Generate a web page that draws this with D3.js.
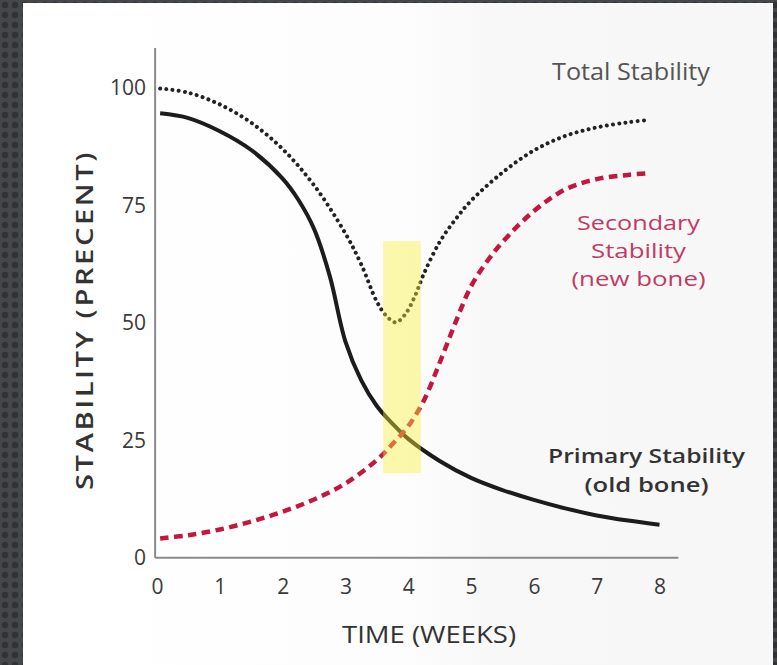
<!DOCTYPE html>
<html>
<head>
<meta charset="utf-8">
<script src="https://cdn.jsdelivr.net/npm/d3@7"></script>
<style>
  html, body { margin: 0; padding: 0; background: #3b3e42; }
  svg { display: block; }
  text { font-family: "Open Sans", "DejaVu Sans", sans-serif; }
</style>
</head>
<body>
<svg id="chart" width="777" height="665"></svg>
<script>
// ---- data ----
const xTicks = [0, 1, 2, 3, 4, 5, 6, 7, 8];
const yTicks = [0, 25, 50, 75, 100];

const primaryWeeks  = [0.05, 0.5, 1, 1.5, 2, 2.25, 2.5, 2.75, 3, 3.25, 3.5, 3.75, 4, 4.5, 5, 5.5, 6, 6.5, 7, 7.5, 8];
const primaryValues = [94.6, 93.6, 90.8, 86.8, 80.7, 76.2, 70.0, 60.0, 46.0, 37.8, 32.3, 28.5, 25.3, 20.6, 17.0, 14.4, 12.3, 10.5, 9.0, 7.9, 7.0];

const secondaryWeeks  = [0.05, 0.5, 1, 1.5, 2, 2.5, 3, 3.5, 3.75, 4, 4.25, 4.5, 4.75, 5, 5.25, 5.5, 6, 6.5, 7, 7.5, 7.78];
const secondaryValues = [4.1, 4.8, 6.0, 7.7, 9.8, 12.4, 15.8, 20.8, 24.2, 28.0, 33.5, 41.5, 50.0, 57.8, 63.0, 67.2, 73.8, 78.4, 80.6, 81.5, 81.8];

const totalWeeks  = [0.05, 0.5, 1, 1.5, 2, 2.5, 3, 3.25, 3.5, 3.65, 3.8, 3.95, 4.1, 4.25, 4.5, 4.75, 5, 5.5, 6, 6.5, 7, 7.5, 7.83];
const totalValues = [99.9, 99.0, 96.5, 92.6, 87.0, 79.3, 69.0, 62.5, 54.5, 51.5, 50.1, 51.8, 55.5, 60.5, 67.2, 72.0, 76.0, 82.0, 86.7, 89.8, 91.6, 92.7, 93.2];

const highlightWeeks  = [3.6, 4.2];
const highlightValues = [18, 67.4];

const labels = {
  total: ["Total Stability"],
  secondary: ["Secondary", "Stability", "(new bone)"],
  primary: ["Primary Stability", "(old bone)"]
};
const xTitle = "TIME (WEEKS)";
const yTitle = "STABILITY (PRECENT)";

// ---- drawing ----
const svg = d3.select("#chart");
const defs = svg.append("defs");

// textured dark frame
const pat = defs.append("pattern").attr("id", "dots")
  .attr("width", 10).attr("height", 10).attr("patternUnits", "userSpaceOnUse");
pat.append("rect").attr("width", 10).attr("height", 10).attr("fill", "#44474b");
pat.append("circle").attr("cx", 5).attr("cy", 5).attr("r", 3.2).attr("fill", "#303235");
svg.append("rect").attr("width", 777).attr("height", 665).attr("fill", "url(#dots)");

// panel with slight grey on the right
const grad = defs.append("linearGradient").attr("id", "panelGrad")
  .attr("x1", "0").attr("x2", "1").attr("y1", "0").attr("y2", "0");
grad.append("stop").attr("offset", "0%").attr("stop-color", "#ffffff");
grad.append("stop").attr("offset", "50%").attr("stop-color", "#fdfdfd");
grad.append("stop").attr("offset", "62%").attr("stop-color", "#f8f8f8");
grad.append("stop").attr("offset", "100%").attr("stop-color", "#f7f7f7");
svg.append("rect").attr("x", 23).attr("y", 3).attr("width", 750).attr("height", 662)
  .attr("fill", "url(#panelGrad)");

const x = d3.scaleLinear().domain([0, 8]).range([157, 659.5]);
const y = d3.scaleLinear().domain([0, 100]).range([557.7, 88]);

// axis lines
svg.append("line")
  .attr("x1", x(-0.03)).attr("x2", x(-0.03))
  .attr("y1", y(0)).attr("y2", y(108.5))
  .attr("stroke", "#8a8a8a").attr("stroke-width", 2);
svg.append("line")
  .attr("x1", x(-0.03)).attr("x2", x(8.3))
  .attr("y1", y(0)).attr("y2", y(0))
  .attr("stroke", "#8a8a8a").attr("stroke-width", 2);

// tick labels via axes
const xAxis = svg.append("g").attr("transform", `translate(0,${y(0)})`)
  .call(d3.axisBottom(x).tickValues(xTicks).tickSize(0).tickPadding(21).tickFormat(d3.format("d")));
xAxis.select(".domain").remove();
xAxis.selectAll("text").attr("font-size", 21).attr("fill", "#3a3a3a")
  .attr("font-family", "'Open Sans', sans-serif");

const yAxis = svg.append("g").attr("transform", `translate(${x(0) - 2},0)`)
  .call(d3.axisLeft(y).tickValues(yTicks).tickSize(0).tickPadding(9).tickFormat(d3.format("d")));
yAxis.select(".domain").remove();
yAxis.selectAll("text").attr("font-size", 21).attr("fill", "#3a3a3a")
  .attr("font-family", "'Open Sans', sans-serif");

// axis titles
svg.append("text").text(xTitle)
  .attr("x", 429).attr("y", 643)
  .attr("text-anchor", "middle").attr("font-size", 23).attr("fill", "#333")
  .attr("textLength", 174).attr("lengthAdjust", "spacingAndGlyphs");
svg.append("text").text(yTitle)
  .attr("transform", "translate(93,320) rotate(-90)")
  .attr("text-anchor", "middle").attr("font-size", 22.5).attr("font-weight", 600).attr("fill", "#333")
  .attr("letter-spacing", 2)
  .attr("textLength", 340).attr("lengthAdjust", "spacingAndGlyphs");

// curves
const line = d3.line().x(d => x(d[0])).y(d => y(d[1])).curve(d3.curveCatmullRom.alpha(0.5));

svg.append("path")
  .attr("d", line(d3.zip(primaryWeeks, primaryValues)))
  .attr("fill", "none").attr("stroke", "#1c1c1c").attr("stroke-width", 4)
  .attr("stroke-linecap", "butt");

svg.append("path")
  .attr("d", line(d3.zip(secondaryWeeks, secondaryValues)))
  .attr("fill", "none").attr("stroke", "#c4163f").attr("stroke-width", 4.5)
  .attr("stroke-dasharray", "8.5 5.5");

svg.append("path")
  .attr("d", line(d3.zip(totalWeeks, totalValues)))
  .attr("fill", "none").attr("stroke", "#222").attr("stroke-width", 4)
  .attr("stroke-linecap", "round").attr("stroke-dasharray", "0.01 6.2");

// highlight band (over curves, semi-transparent)
svg.append("rect")
  .attr("x", x(highlightWeeks[0])).attr("width", x(highlightWeeks[1]) - x(highlightWeeks[0]))
  .attr("y", y(highlightValues[1])).attr("height", y(highlightValues[0]) - y(highlightValues[1]))
  .attr("fill", "#f7ef3a").attr("opacity", 0.42);

// annotations
function label(lines, cx, baselines, widths, color, size, weight) {
  lines.forEach((t, i) => {
    svg.append("text").text(t)
      .attr("x", cx).attr("y", baselines[i]).attr("text-anchor", "middle")
      .attr("font-size", size).attr("font-weight", weight).attr("fill", color)
      .attr("textLength", widths[i]).attr("lengthAdjust", "spacingAndGlyphs");
  });
}
label(labels.total, 631, [80], [158], "#555555", 23, 400);
label(labels.secondary, 638.5, [229.5, 258, 286], [123, 95, 134], "#c23a64", 20.5, 400);
label(labels.primary, 646.5, [463, 491.5], [197, 124], "#333333", 20.5, 600);
</script>
</body>
</html>
